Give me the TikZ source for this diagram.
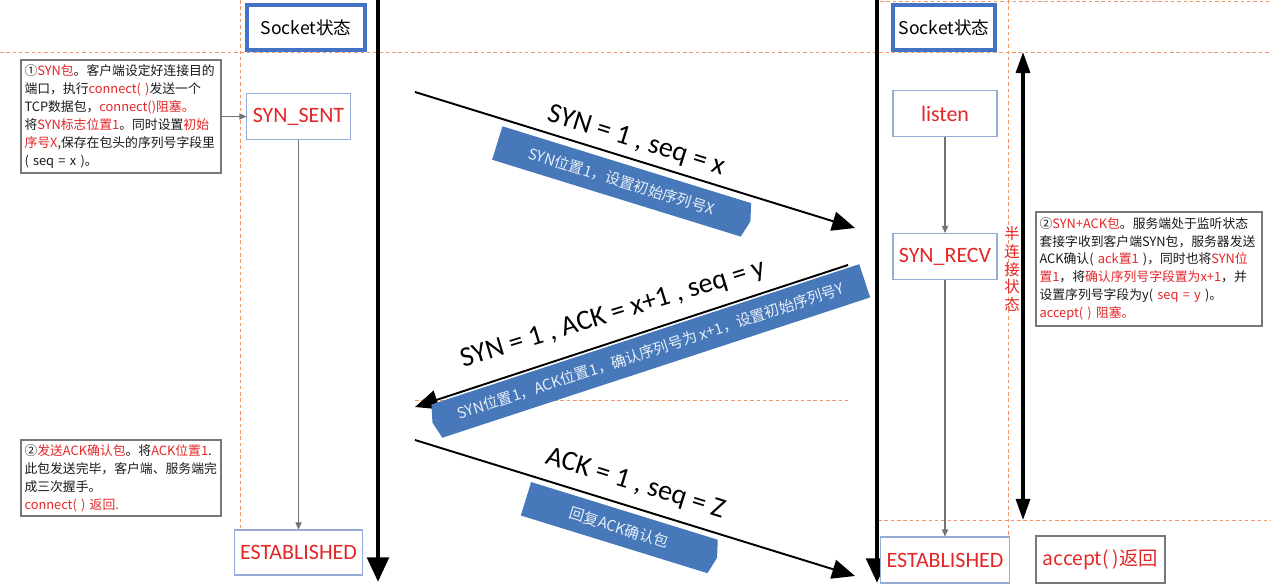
\documentclass[tikz,border=0pt]{standalone}
\usepackage{fontspec}
\setmainfont{Carlito}
\newfontfamily\cjk{Noto Sans CJK SC}
\usetikzlibrary{arrows.meta, positioning, shapes.symbols}
\definecolor{tcpred}{RGB}{228,38,40}
\definecolor{sockblue}{RGB}{68,114,196}
\definecolor{stateblue}{RGB}{150,172,214}
\definecolor{bannerblue}{RGB}{70,120,186}
\definecolor{guideorange}{RGB}{240,150,100}
\definecolor{notegray}{RGB}{120,120,120}
\newcommand{\hl}[1]{\textcolor{tcpred}{#1}}

\begin{document}
\begin{tikzpicture}[x=0.02cm, y=-0.02cm,
  sockbox/.style={draw=sockblue, line width=2.2pt, fill=white, minimum height=0.9cm, font=\cjk\fontsize{10}{12}\selectfont},
  statebox/.style={draw=stateblue, line width=0.6pt, fill=white, minimum height=0.92cm, text=tcpred, font=\fontsize{12.5}{14}\selectfont},
  notebox/.style={draw=notegray, line width=0.9pt, fill=white, align=left, inner sep=2pt, text=black!90, font=\cjk\fontsize{7.3}{10.2}\selectfont},
  guide/.style={guideorange, line width=0.5pt, dash pattern=on 2pt off 1.6pt},
  lifeline/.style={line width=2.8pt, -{Triangle[length=14pt, width=12pt]}},
  msg/.style={line width=1.1pt, -{Triangle[length=13pt, width=11pt]}},
  flow/.style={draw=black!55, line width=0.6pt, -{Triangle[length=4pt, width=3.5pt]}},
  msglabel/.style={font=\fontsize{16}{19}\selectfont, inner sep=0pt},
  banner/.style={shape=signal, fill=bannerblue, text=white!88!bannerblue, minimum height=0.7cm, inner sep=2pt, signal pointer angle=150, sloped, font=\cjk\fontsize{8.5}{10}\selectfont}
]
\path[use as bounding box, fill=white] (0,0) rectangle (1271,588);

% guide lines
\draw[guide] (0,52) -- (1271,52);
\draw[guide] (880,1.5) -- (1271,1.5);
\draw[guide] (240,0) -- (240,530);
\draw[guide] (1008,0) -- (1008,537);
\draw[guide] (415,400) -- (848,400);
\draw[guide] (878,520) -- (1271,520);

% client and server time lines
\coordinate (ctop) at (378,0);
\coordinate (cbot) at (378,582);
\coordinate (stop) at (877,0);
\coordinate (sbot) at (877,583);
\draw[lifeline] (ctop) -- (cbot);
\draw[lifeline] (stop) -- (sbot);

% column heads
\node[sockbox, minimum width=2.36cm] (csock) at (306,27.5) {Socket状态};
\node[sockbox, minimum width=2.04cm] (ssock) at (944,27.5) {Socket状态};

% client states
\node[statebox, minimum width=2.06cm] (synsent) at (298.5,116.5) {SYN\_SENT};
\node[statebox, minimum width=2.54cm, minimum height=0.9cm] (cest) at (298.5,552.5) {ESTABLISHED};

% server states
\node[statebox, minimum width=2.08cm] (listen) at (945,113.5) {listen};
\node[statebox, minimum width=2.08cm] (synrecv) at (945,256.5) {SYN\_RECV};
\node[statebox, minimum width=2.56cm] (sest) at (945,560) {ESTABLISHED};
\node[statebox, draw=notegray, minimum width=2.58cm, minimum height=0.94cm, font=\cjk\fontsize{11}{13}\selectfont] (accret) at (1100.5,559.5) {accept( )返回};

% notes
\node[notebox, text width=3.86cm, minimum height=2.26cm] (note1) at (121,116.5)
  {①\hl{SYN包}。客户端设定好连接目的\\端口，执行\hl{connect( )}发送一个\\TCP数据包，\hl{connect()阻塞。}\\将\hl{SYN标志位置1}。同时设置\hl{初始}\\\hl{序号X},保存在包头的序列号字段里\\( seq = x )。};
\node[notebox, text width=3.86cm, minimum height=1.52cm] (note2) at (121,478)
  {②\hl{发送ACK确认包}。将\hl{ACK位置1}.\\此包发送完毕，客户端、服务端完\\成三次握手。\\\hl{connect( ) 返回.}};
\node[notebox, text width=4.38cm, minimum height=2.28cm] (note3) at (1149,269)
  {②\hl{SYN+ACK包}。服务端处于监听状态\\套接字收到客户端SYN包，服务器发送\\ACK确认( \hl{ack置1} )，同时也将\hl{SYN位}\\\hl{置1}，将\hl{确认序列号字段置为x+1}，并\\设置序列号字段为y( \hl{seq = y} )。\\\hl{accept( ) 阻塞。}};
\node[text=tcpred, align=center, font=\cjk\fontsize{8.8}{10.2}\selectfont] (halfopen) at (1012,269) {半\\连\\接\\状\\态};

% state flow
\draw[flow] (note1.east) -- (synsent.west);
\draw[flow] (synsent.south) -- (cest.north);
\draw[flow] (listen.south) -- (synrecv.north);
\draw[flow] (synrecv.south) -- (sest.north);
\draw[line width=1.8pt, {Triangle[length=12pt, width=8pt]}-{Triangle[length=12pt, width=8pt]}] (1023,52) -- (1023,520);

% handshake messages
\coordinate (m1a) at (415,92);
\coordinate (m1b) at (855,228);
\coordinate (m2a) at (848,265);
\coordinate (m2b) at (415,407);
\coordinate (m3a) at (415,440);
\coordinate (m3b) at (855,576);

\draw[msg] (m1a) -- (m1b)
  node[msglabel, sloped, pos=0.49, above=3.5pt] (m1lbl) {SYN = 1 , seq = x}
  node[banner, signal to=east, minimum width=5.3cm, pos=0.486, below=3.4pt] (m1ban) {SYN位置1，设置初始序列号X};
\draw[msg] (m2a) -- (m2b)
  node[msglabel, rotate=17, pos=0.5, xshift=-6.5pt, yshift=15pt] (m2lbl) {SYN = 1 , ACK = x+1 , seq = y}
  node[banner, signal to=west, minimum width=9.1cm, pos=0.47, below=1pt] (m2ban) {SYN位置1，ACK位置1，确认序列号为 x+1，设置初始序列号Y};
\draw[msg] (m3a) -- (m3b)
  node[msglabel, sloped, pos=0.485, above=6pt] (m3lbl) {ACK = 1 , seq = Z}
  node[banner, signal to=east, minimum width=4cm, pos=0.48, below=2.8pt] (m3ban) {回复ACK确认包};

\end{tikzpicture}
\end{document}
